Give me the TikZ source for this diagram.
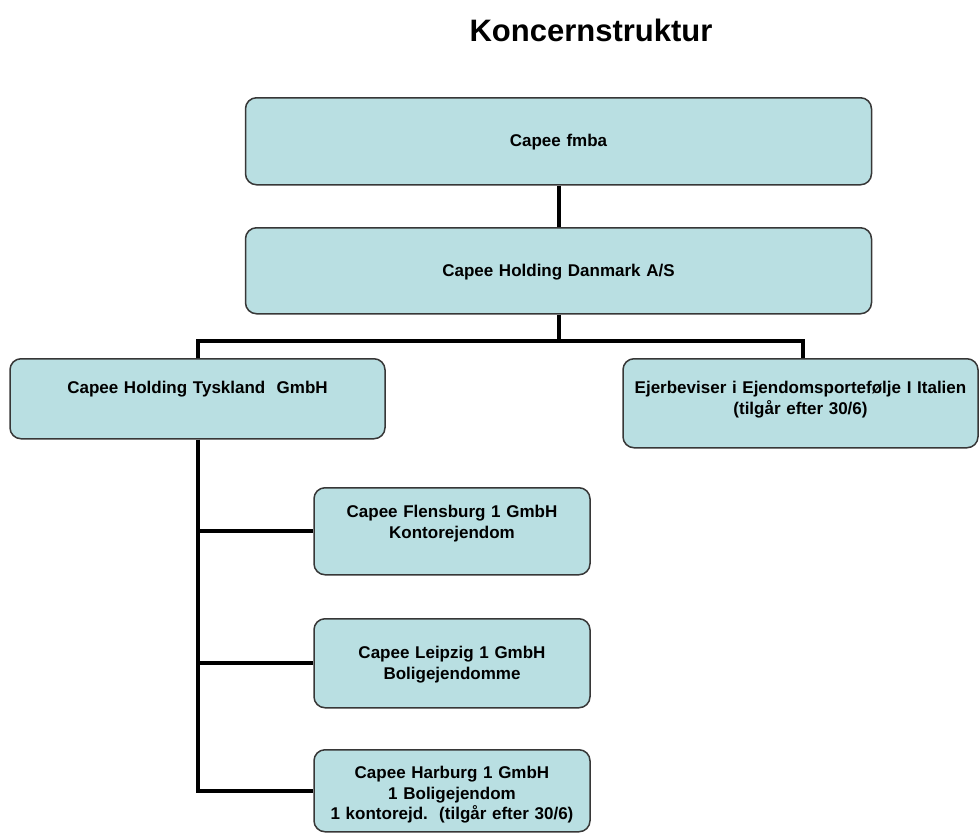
\documentclass[tikz,border=0pt]{standalone}
\usepackage{fontspec}
\setmainfont{Liberation Sans}
\definecolor{boxfill}{RGB}{185,223,226}
\definecolor{boxline}{RGB}{55,55,55}
\tikzset{
  orgbox/.style={draw=boxline, line width=1.5pt, fill=boxfill, rounded corners=11pt,
    inner sep=0pt, anchor=north, align=center,
    font=\fontsize{17}{20.5}\selectfont\bfseries},
  conn/.style={line width=4pt, draw=black},
}
\begin{document}
\begin{tikzpicture}[x=1pt,y=-1pt]
\useasboundingbox (0,0) rectangle (980,833);
\node[font=\fontsize{31}{36}\selectfont\bfseries, anchor=base] (title) at (591,41) {Koncernstruktur};

\node[orgbox, text width=626pt, text height=49pt, text depth=38pt] (b1) at (558.5,97) {Capee fmba};
\node[orgbox, text width=626pt, text height=49pt, text depth=37pt] (b2) at (558.5,227) {Capee Holding Danmark A/S};
\node[orgbox, text width=375pt, text height=35pt, text depth=45pt] (b3) at (197.5,358) {Capee Holding Tyskland\ \ GmbH};
\node[orgbox, text width=355pt, text height=35pt, text depth=54pt] (b4) at (800.5,358) {Ejerbeviser i Ejendomsportefølje I Italien\\(tilgår efter 30/6)};
\node[orgbox, text width=276pt, text height=30pt, text depth=57pt] (b5) at (452,487) {Capee Flensburg 1 GmbH\\Kontorejendom};
\node[orgbox, text width=276pt, text height=40pt, text depth=49pt] (b6) at (452,618) {Capee Leipzig 1 GmbH\\Boligejendomme};
\node[orgbox, text width=276pt, text height=29pt, text depth=53pt] (b7) at (452,749) {Capee Harburg 1 GmbH\\1 Boligejendom\\1 kontorejd.\ \ (tilgår efter 30/6)};

\coordinate (hl) at (197,341);
\coordinate (hr) at (803,341);
\draw[conn] (b1.south) -- (b2.north);
\draw[conn] (b2.south) -- (b2.south |- hl);
\draw[conn] (b3.north) |- (hr) -- (hr |- b4.north);
\draw[conn] (b3.south) |- (b7.west);
\draw[conn] (b3.south |- b5.west) -- (b5.west);
\draw[conn] (b3.south |- b6.west) -- (b6.west);
\end{tikzpicture}
\end{document}
